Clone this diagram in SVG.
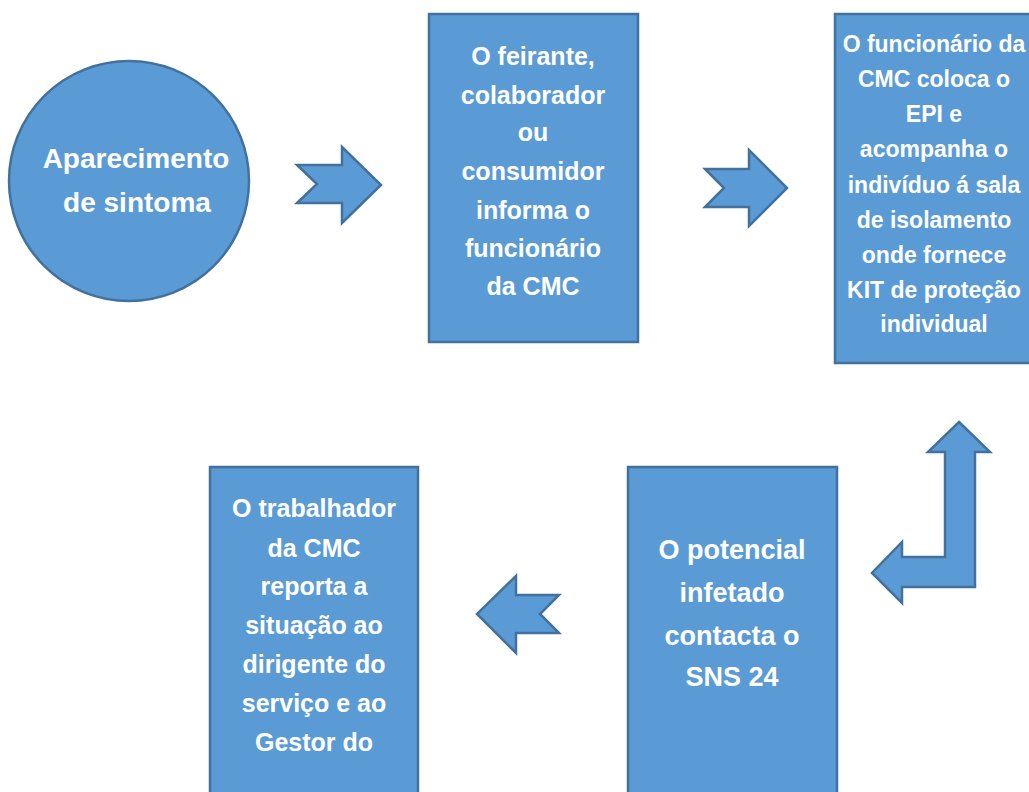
<svg xmlns="http://www.w3.org/2000/svg" width="1029" height="792" viewBox="0 0 1029 792">
<style>
.s{fill:#5B9BD5;stroke:#41719C;stroke-width:2.5;stroke-linejoin:miter}
text{font-family:"Liberation Sans",Arial,sans-serif;font-weight:bold;fill:#FFFFFF;text-anchor:middle}
</style>
<rect width="1029" height="792" fill="#FFFFFF"/>
<g id="n1">
<circle class="s" cx="129" cy="181" r="120"/>
<text font-size="28"><tspan x="136" y="168">Aparecimento</tspan><tspan x="137" y="212">de sintoma</tspan></text>
</g>
<g id="n2">
<rect class="s" x="429" y="14" width="209" height="328"/>
<text font-size="25"><tspan x="533" y="65">O feirante,</tspan><tspan x="533" y="104">colaborador</tspan><tspan x="533" y="141">ou</tspan><tspan x="533" y="180">consumidor</tspan><tspan x="533" y="219">informa o</tspan><tspan x="533" y="257">funcionário</tspan><tspan x="533" y="295">da CMC</tspan></text>
</g>
<g id="n3">
<rect class="s" x="835" y="14" width="205" height="349"/>
<text font-size="23"><tspan x="934" y="52">O funcionário da</tspan><tspan x="934" y="87">CMC coloca o</tspan><tspan x="934" y="122">EPI e</tspan><tspan x="934" y="157">acompanha o</tspan><tspan x="934" y="193">indivíduo á sala</tspan><tspan x="934" y="228">de isolamento</tspan><tspan x="934" y="263">onde fornece</tspan><tspan x="934" y="298">KIT de proteção</tspan><tspan x="934" y="332">individual</tspan></text>
</g>
<g id="n4">
<rect class="s" x="628" y="467" width="209" height="340"/>
<text font-size="27"><tspan x="732" y="559">O potencial</tspan><tspan x="732" y="602">infetado</tspan><tspan x="732" y="645">contacta o</tspan><tspan x="732" y="686">SNS 24</tspan></text>
</g>
<g id="n5">
<rect class="s" x="210" y="467" width="208" height="340"/>
<text font-size="25"><tspan x="314" y="517">O trabalhador</tspan><tspan x="314" y="557">da CMC</tspan><tspan x="314" y="595">reporta a</tspan><tspan x="314" y="634">situação ao</tspan><tspan x="314" y="673">dirigente do</tspan><tspan x="314" y="712">serviço e ao</tspan><tspan x="314" y="751">Gestor do</tspan></text>
</g>
<g id="connectors">
<polygon class="s" points="297,165 342,165 342,147 381,185 342,223 342,203 297,203 317,184"/>
<polygon class="s" points="705,169 749,169 749,150 787,188 749,226 749,207 705,207 724,188"/>
<polygon class="s" points="559,595 516,595 516,576 477,614 516,653 516,633 559,633 540,614"/>
<polygon class="s" points="959,422 990,452 975,452 975,587 902,587 902,603 872,573 902,542 902,557 945,557 945,452 928,452"/>
</g>
</svg>
